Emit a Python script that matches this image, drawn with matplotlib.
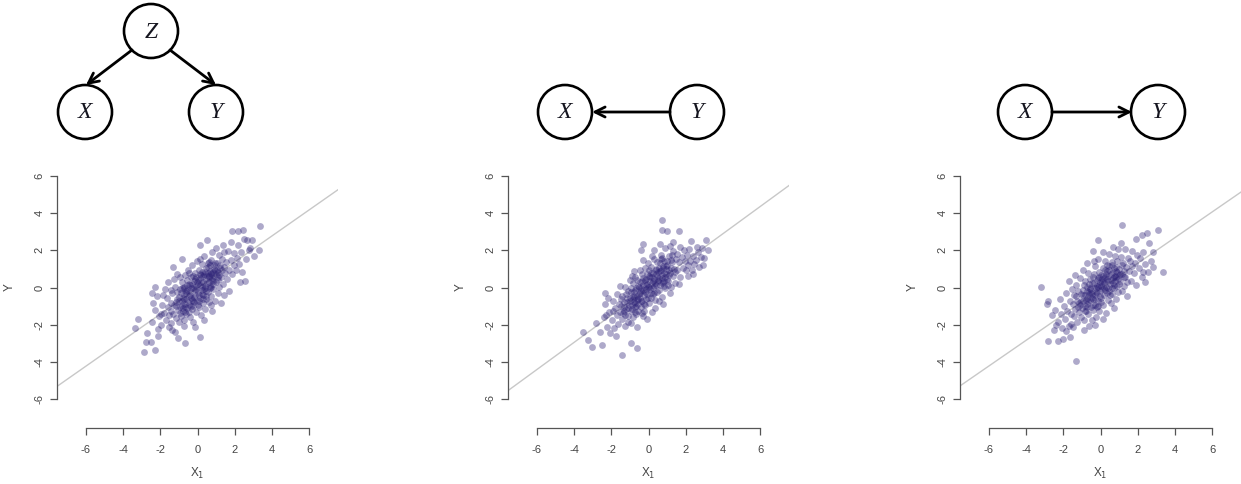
import matplotlib
matplotlib.use("Agg")
from matplotlib import pyplot as plt
from matplotlib.patches import Circle

plt.rcParams["font.family"] = ["Liberation Sans", "DejaVu Sans"]
plt.rcParams["axes.unicode_minus"] = False

W, H = 1241, 484

# scatter points (x, y)
p1_pts = [
    (3.37, 3.30), (3.33, 2.04), (2.20, 3.03), (1.84, 3.03), (2.47, 3.08), (2.65, 2.54), (2.83, 2.15),
    (2.56, 0.36), (2.29, 0.30), (-3.36, -2.20), (-3.18, -1.67), (-2.88, -3.46), (-2.77, -2.92),
    (-2.29, -3.37), (-2.52, -2.92), (-2.74, -2.47), (-0.67, -2.97), (0.13, -2.65), (-1.03, -2.74),
    (-1.21, -2.38), (-2.47, -0.32), (-2.29, 0.04), (-1.30, 1.11), (-0.85, 1.56), (0.13, 2.28), (0.49, 2.54),
    (-2.45, -1.85), (-2.30, -1.20), (-2.15, -2.25), (-2.40, -0.85), (-2.05, -1.55), (-2.20, -0.45), (-2.10, -2.60),
    (-1.95, -2.00), (-1.90, -0.95), (-1.80, -1.35), (-1.85, -0.40), (-1.70, -1.75), (-1.60, -1.05), (-1.65, -0.55),
    (-1.55, -2.15), (-1.75, -0.10), (-1.95, -1.40), (-1.60, 0.30), (-1.52, -1.50),
    (-1.45, -0.85), (-1.40, -1.90), (-1.35, -0.30), (-1.30, -1.40), (-1.25, -0.95), (-1.20, 0.05), (-1.15, -1.65),
    (-1.10, -0.60), (-1.05, -1.20), (-1.45, -0.15), (-1.35, -2.30), (-1.28, 0.45), (-1.12, -0.25), (-1.02, -1.85),
    (-1.42, -1.25), (-1.18, -0.80), (-1.08, 0.70),
    (-0.98, -0.50), (-0.95, -1.05), (-0.92, -0.10), (-0.88, -1.55), (-0.85, -0.75), (-0.82, 0.30), (-0.78, -1.25),
    (-0.75, -0.35), (-0.72, -2.05), (-0.70, 0.05), (-0.68, -0.90), (-0.65, 0.65), (-0.62, -1.45), (-0.60, -0.60),
    (-0.58, -0.15), (-0.55, -1.10), (-0.52, 0.95), (-0.96, 0.55), (-0.86, -0.95), (-0.74, -1.75), (-0.64, -0.30),
    (-0.56, 0.40), (-0.80, -0.55), (-0.66, -1.05),
    (-0.48, -0.45), (-0.45, -0.95), (-0.42, 0.15), (-0.40, -1.60), (-0.38, -0.20), (-0.35, 0.55), (-0.32, -1.15),
    (-0.30, -0.65), (-0.28, 1.20), (-0.25, -0.05), (-0.22, -1.85), (-0.20, 0.35), (-0.18, -0.80), (-0.15, 0.80),
    (-0.12, -0.40), (-0.10, -1.30), (-0.08, 0.10), (-0.05, -0.70), (-0.03, 1.45), (-0.46, 0.80), (-0.36, -0.55),
    (-0.26, -1.00), (-0.16, -0.15), (-0.06, 0.55), (-0.44, -1.30), (-0.24, 0.60), (-0.14, -2.10), (-0.34, 0.00),
    (0.02, -0.25), (0.05, 0.40), (0.08, -1.05), (0.10, 0.95), (0.12, -0.55), (0.15, 0.15), (0.18, -1.50),
    (0.20, 0.65), (0.22, -0.15), (0.25, 1.25), (0.28, -0.85), (0.30, 0.30), (0.32, -0.40), (0.35, 1.70),
    (0.38, 0.00), (0.40, -1.15), (0.42, 0.85), (0.45, 0.45), (0.48, -0.60), (0.06, -0.75), (0.16, 0.50),
    (0.26, 0.05), (0.36, 0.70), (0.46, 1.05), (0.14, 1.55), (0.34, -1.75), (0.44, -0.20), (0.24, -0.35),
    (0.52, 0.25), (0.55, -0.25), (0.58, 1.10), (0.60, 0.55), (0.62, -0.80), (0.65, 0.90), (0.68, 0.10),
    (0.70, 1.50), (0.72, -0.45), (0.75, 0.70), (0.78, -1.25), (0.80, 1.90), (0.82, 0.35), (0.85, -0.10),
    (0.88, 1.20), (0.90, 0.60), (0.92, -0.70), (0.95, 0.95), (0.98, 2.15), (0.56, 0.80), (0.66, -0.05),
    (0.76, 0.40), (0.86, 0.85), (0.64, 1.35), (0.74, -0.95),
    (1.02, 0.30), (1.05, 1.30), (1.08, -0.30), (1.10, 0.85), (1.15, 1.75), (1.18, 0.05), (1.22, 1.05),
    (1.25, -0.85), (1.28, 0.55), (1.32, 1.55), (1.35, 2.30), (1.38, 0.20), (1.42, 1.10), (1.45, -0.40),
    (1.48, 0.80), (1.12, 0.55), (1.30, 0.95), (1.40, 1.90),
    (1.52, 1.35), (1.58, 0.45), (1.62, 1.95), (1.68, 0.95), (1.72, -0.20), (1.78, 1.50), (1.82, 2.45),
    (1.88, 0.70), (1.95, 1.20), (1.98, 1.85),
    (2.05, 0.95), (2.12, 1.60), (2.18, 2.30), (2.25, 1.25), (2.35, 1.90), (2.42, 0.85), (2.48, 2.60),
    (2.62, 1.55), (2.75, 2.00), (2.95, 2.55), (3.05, 1.70),
    # dense core
    (-1.00, -0.70), (-0.90, -0.30), (-0.80, -1.10), (-0.70, -0.60), (-0.60, -0.20), (-0.50, -0.80),
    (-0.40, -0.40), (-0.30, 0.20), (-0.20, -0.50), (-0.10, -0.10), (0.00, 0.20), (0.10, -0.40),
    (0.20, 0.30), (0.30, 0.60), (0.40, 0.10), (0.50, 0.60), (0.60, 0.30), (0.70, 0.80), (0.80, 0.50),
    (0.90, 1.00), (1.00, 0.70), (1.10, 0.40), (1.20, 1.20), (-0.75, -0.05), (-0.55, 0.15), (-0.35, -1.00),
    (-0.15, 0.45), (0.05, -0.95), (0.25, 0.85), (0.45, -0.45), (0.65, 1.20), (0.85, 0.20), (1.05, 0.95),
    (-1.15, -1.00), (-0.95, -1.35), (-0.45, 0.20), (0.15, 0.70), (0.35, -0.10), (0.55, 1.30), (0.75, 0.05),
    (-0.25, -0.75), (-0.05, 0.30), (0.30, -0.60), (0.60, 0.60), (-0.65, -1.30), (-0.85, 0.00), (0.95, 1.30),
    (1.15, 0.65),
]

p2_pts = [
    (0.75, 3.65), (0.70, 3.08), (0.97, 3.03), (1.65, 3.03), (3.12, 2.54), (3.21, 2.00), (2.85, 1.65),
    (2.94, 1.20), (2.40, 0.75), (2.04, 0.93), (-3.51, -2.38), (-3.24, -2.83), (-3.06, -3.19), (-2.49, -3.10),
    (-1.40, -3.64), (-0.64, -3.28), (-0.95, -2.97), (-2.26, -1.49), (-2.35, -0.32), (-0.29, 2.36),
    (-0.41, 2.04), (-2.80, -1.90), (-2.60, -2.40), (2.60, 2.20), (2.30, 2.50),
    (-2.40, -1.60), (-2.25, -2.10), (-2.35, -0.90), (-2.10, -1.30), (-2.05, -2.45), (-2.20, -0.55),
    (-1.98, -1.75), (-1.92, -0.70), (-1.85, -2.20), (-1.80, -1.10), (-1.72, -1.50), (-1.68, -0.35),
    (-1.62, -1.95), (-1.58, -0.90), (-1.55, -1.30), (-1.90, -1.25), (-1.75, -2.60), (-1.52, 0.10),
    (-1.48, -1.00), (-1.44, -1.70), (-1.40, -0.45), (-1.36, -1.35), (-1.32, -0.80), (-1.28, -2.05),
    (-1.24, 0.05), (-1.20, -1.15), (-1.16, -0.55), (-1.12, -1.55), (-1.08, -0.20), (-1.04, -0.95),
    (-1.46, -0.60), (-1.34, -1.05), (-1.22, -0.35), (-1.10, -1.85), (-1.02, 0.40), (-1.26, -1.50),
    (-0.98, -0.70), (-0.95, -1.25), (-0.92, -0.25), (-0.88, -0.95), (-0.85, 0.25), (-0.82, -1.60),
    (-0.78, -0.50), (-0.75, -1.05), (-0.72, 0.55), (-0.70, -0.15), (-0.67, -1.40), (-0.64, -0.65),
    (-0.61, -2.10), (-0.58, 0.10), (-0.55, -0.90), (-0.52, -0.35), (-0.96, -1.90), (-0.86, -0.45),
    (-0.76, 0.90), (-0.66, -0.05), (-0.56, -1.25), (-0.80, -0.80), (-0.60, 0.40), (-0.90, 0.60),
    (-0.48, -0.55), (-0.45, 0.30), (-0.42, -1.05), (-0.39, -0.20), (-0.36, 0.75), (-0.33, -0.75),
    (-0.30, -1.55), (-0.27, 0.15), (-0.24, -0.40), (-0.21, 1.05), (-0.18, -0.95), (-0.15, 0.45),
    (-0.12, -0.10), (-0.09, -1.70), (-0.06, 0.70), (-0.03, -0.55), (-0.47, 0.95), (-0.37, -1.35),
    (-0.28, 0.50), (-0.19, -0.25), (-0.10, 0.20), (-0.40, 0.00), (-0.22, -1.25), (-0.05, 1.30),
    (-0.32, 1.50), (-0.14, -0.60),
    (0.02, 0.05), (0.05, -0.85), (0.08, 0.55), (0.11, -0.30), (0.14, 1.10), (0.17, 0.25), (0.20, -1.30),
    (0.23, 0.80), (0.26, -0.05), (0.29, 1.55), (0.32, 0.45), (0.35, -0.65), (0.38, 1.00), (0.41, 0.15),
    (0.44, -0.25), (0.47, 1.35), (0.04, 0.95), (0.13, -0.55), (0.22, 0.35), (0.31, -0.30), (0.40, 0.70),
    (0.49, 0.40), (0.18, 1.70), (0.36, -1.10), (0.27, 2.00),
    (0.52, 0.85), (0.55, -0.15), (0.58, 0.50), (0.61, 1.30), (0.64, 0.15), (0.67, 1.75), (0.70, 0.65),
    (0.73, -0.50), (0.76, 1.05), (0.79, 0.30), (0.82, 1.45), (0.85, 0.80), (0.88, -0.05), (0.91, 2.10),
    (0.94, 1.15), (0.97, 0.45), (0.57, -0.75), (0.66, 0.95), (0.75, 1.60), (0.84, 0.10), (0.93, 0.75),
    (0.62, 2.35), (0.80, -0.90),
    (1.02, 1.20), (1.06, 0.35), (1.10, 1.70), (1.14, 0.80), (1.18, 2.25), (1.22, 0.05), (1.26, 1.35),
    (1.30, 0.60), (1.34, 1.95), (1.38, 1.00), (1.42, 0.25), (1.46, 1.55), (1.08, 0.95), (1.20, 1.50),
    (1.32, 2.45), (1.44, 0.85), (1.16, -0.30),
    (1.52, 1.80), (1.56, 0.95), (1.62, 1.35), (1.68, 2.20), (1.72, 0.55), (1.78, 1.65), (1.84, 1.05),
    (1.90, 2.00), (1.96, 1.40), (1.65, 0.20),
    (2.05, 1.75), (2.10, 1.20), (2.18, 2.05), (2.25, 1.45), (2.32, 0.95), (2.38, 1.70), (2.45, 1.25),
    (2.15, 0.60), (2.55, 1.50), (2.65, 1.90), (2.72, 1.10), (2.90, 2.15), (3.00, 1.60),
    # dense core
    (-1.10, -1.10), (-1.00, -0.55), (-0.90, -1.15), (-0.80, -0.25), (-0.70, -0.85), (-0.60, -0.45),
    (-0.50, 0.05), (-0.40, -0.70), (-0.30, -0.15), (-0.20, 0.40), (-0.10, -0.35), (0.00, 0.35),
    (0.10, -0.10), (0.20, 0.55), (0.30, 0.10), (0.40, 0.95), (0.50, 0.35), (0.60, 0.90), (0.70, 0.25),
    (0.80, 1.15), (0.90, 0.55), (1.00, 1.45), (1.10, 0.65), (1.20, 1.05), (-0.85, -0.60), (-0.65, -1.00),
    (-0.45, -0.30), (-0.25, -0.90), (-0.05, 0.05), (0.15, 0.80), (0.35, 0.25), (0.55, 1.05), (0.75, 0.50),
    (0.95, 1.00), (-1.30, -1.25), (-0.95, -0.05), (-0.55, -0.60), (-0.15, 0.15), (0.25, -0.35),
    (0.45, 0.60), (0.65, 1.55), (0.85, 0.35), (1.05, 0.15), (-0.35, 0.35), (-0.75, -1.30), (0.05, 0.60),
    (1.25, 1.75), (-1.15, -0.80),
]

p3_pts = [
    (-3.20, 0.04), (-1.32, -3.98), (1.17, 3.35), (3.11, 3.09), (2.48, 2.91), (2.22, 2.84), (-0.12, 2.57),
    (-0.39, 1.98), (3.38, 0.81), (2.39, 0.28), (2.31, 0.81), (-2.81, -2.86), (-2.27, -2.86), (-2.90, -0.88),
    (-2.81, -0.70), (-1.64, -2.67), (-2.50, -2.30), (-2.00, -2.75), (2.80, 1.90), (2.60, 2.40), (1.90, 2.60),
    (-2.60, -1.50),
    (-2.45, -1.20), (-2.30, -1.85), (-2.20, -0.60), (-2.10, -1.40), (-2.40, -2.00), (-2.05, -2.20),
    (-1.96, -1.00), (-1.90, -1.70), (-1.84, -0.30), (-1.78, -1.25), (-1.72, -2.05), (-1.66, -0.75),
    (-1.60, -1.45), (-1.54, -0.10), (-1.88, -2.35), (-1.70, 0.35), (-1.58, -1.95),
    (-1.48, -0.90), (-1.44, -1.55), (-1.40, -0.40), (-1.36, -1.15), (-1.32, 0.15), (-1.28, -0.70),
    (-1.24, -1.85), (-1.20, -0.20), (-1.16, -1.30), (-1.12, 0.50), (-1.08, -0.95), (-1.04, -1.60),
    (-1.46, -2.10), (-1.30, -0.45), (-1.18, -0.85), (-1.06, -0.35), (-1.38, 0.65),
    (-0.98, -1.10), (-0.95, -0.15), (-0.92, -0.70), (-0.88, -1.75), (-0.85, 0.35), (-0.82, -0.40),
    (-0.78, -1.25), (-0.75, 0.05), (-0.72, -0.90), (-0.69, 0.80), (-0.66, -1.45), (-0.63, -0.25),
    (-0.60, -2.05), (-0.57, 0.45), (-0.54, -0.65), (-0.51, -1.05), (-0.94, 0.95), (-0.84, -1.00),
    (-0.74, -0.55), (-0.64, 0.20), (-0.54, -0.10), (-0.90, -2.30), (-0.70, 1.30),
    (-0.48, -0.35), (-0.45, 0.25), (-0.42, -1.20), (-0.39, -0.60), (-0.36, 0.70), (-0.33, -0.05),
    (-0.30, -0.95), (-0.27, 1.15), (-0.24, -1.60), (-0.21, 0.40), (-0.18, -0.30), (-0.15, 0.05),
    (-0.12, -0.75), (-0.09, 0.85), (-0.06, -1.25), (-0.03, 0.30), (-0.46, -1.75), (-0.37, 1.45),
    (-0.28, -0.40), (-0.19, -1.05), (-0.10, 0.55), (-0.41, 0.55), (-0.23, 0.00), (-0.05, -0.20),
    (-0.32, -2.00), (-0.14, 1.55),
    (0.02, -0.55), (0.05, 0.65), (0.08, -0.10), (0.11, 1.05), (0.14, -0.95), (0.17, 0.25), (0.20, -0.40),
    (0.23, 1.45), (0.26, 0.55), (0.29, -1.35), (0.32, 0.05), (0.35, 0.90), (0.38, -0.65), (0.41, 0.35),
    (0.44, 1.80), (0.47, -0.20), (0.07, 0.30), (0.16, -1.70), (0.25, 0.95), (0.34, -0.30), (0.43, 0.60),
    (0.12, 1.90), (0.48, 1.15), (0.20, 0.00),
    (0.52, 0.20), (0.55, -0.85), (0.58, 0.75), (0.61, 1.35), (0.64, -0.35), (0.67, 0.50), (0.70, 1.05),
    (0.73, -0.05), (0.76, 1.70), (0.79, 0.35), (0.82, -0.60), (0.85, 0.90), (0.88, 1.40), (0.91, 0.10),
    (0.94, 2.05), (0.97, 0.65), (0.60, 0.00), (0.72, -1.10), (0.84, 0.55), (0.96, -0.25), (0.66, 2.20),
    (1.02, 1.00), (1.06, 0.35), (1.10, 1.65), (1.14, -0.20), (1.18, 0.75), (1.22, 1.30), (1.26, 0.10),
    (1.30, 2.05), (1.34, 0.55), (1.38, 1.10), (1.42, -0.45), (1.46, 1.60), (1.12, 2.40), (1.28, 0.90),
    (1.44, 0.30),
    (1.54, 0.90), (1.60, 1.45), (1.66, 0.35), (1.72, 1.95), (1.78, 0.80), (1.84, 1.30), (1.90, 0.15),
    (1.96, 1.75), (1.70, 1.15),
    (2.06, 1.05), (2.14, 1.60), (2.22, 0.55), (2.30, 1.90), (2.40, 1.25),
    (2.55, 0.85), (2.70, 1.45), (2.85, 1.10),
    # dense core
    (-1.05, -0.75), (-0.95, -0.40), (-0.85, -1.25), (-0.75, -0.20), (-0.65, -0.75), (-0.55, 0.00),
    (-0.45, -0.55), (-0.35, 0.25), (-0.25, -0.25), (-0.15, 0.50), (-0.05, -0.45), (0.05, 0.10),
    (0.15, 0.60), (0.25, -0.15), (0.35, 0.45), (0.45, 0.95), (0.55, 0.40), (0.65, 0.85), (0.75, 0.15),
    (0.85, 1.10), (0.95, 0.45), (1.05, 0.75), (1.15, 1.20), (-0.80, -0.65), (-0.60, -0.35), (-0.40, -0.95),
    (-0.20, 0.10), (0.00, -0.80), (0.20, 0.35), (0.40, -0.05), (0.60, 1.20), (0.80, 0.60), (1.00, 0.20),
    (-1.20, -1.05), (-0.90, 0.15), (-0.50, -0.30), (-0.10, 0.15), (0.30, 0.70), (0.50, -0.40),
    (0.70, 0.55), (0.90, 0.85), (-0.30, -0.60), (0.10, 0.45), (-0.70, -1.05), (1.25, 0.55), (0.35, 1.20),
    (-0.15, -1.00), (0.65, 0.25),
]

# fitted lines (slope, intercept)
line_slopes = [0.70, 0.73, 0.69]
line_icepts = [-0.03, -0.03, -0.08]

ticks = [-6, -4, -2, 0, 2, 4, 6]
lim = 7.56

# DAG node positions (pixels) and edges
dag_nodes = [
    {"Z": (151, 31), "X": (85, 112), "Y": (216, 112)},
    {"X": (565, 112), "Y": (697, 112)},
    {"X": (1025, 112), "Y": (1158, 112)},
]
dag_edges = [
    [((132, 50), (86, 85)), ((170, 50), (216, 85))],
    [((670, 112), (592, 112))],
    [((1052, 112), (1132, 112))],
]
node_r = 27

panel_left = [57, 508, 960]
panel_top = 147
panel_size = 281

fig = plt.figure(figsize=(W / 100, H / 100), dpi=100)

# overlay for the graph diagrams, in pixel coords
ov = fig.add_axes([0, 0, 1, 1])
ov.set_xlim(0, W)
ov.set_ylim(H, 0)
ov.axis("off")
for nodes, edges in zip(dag_nodes, dag_edges):
    for name, (cx, cy) in nodes.items():
        ov.add_patch(Circle((cx, cy), node_r, fill=False, lw=1.9, ec="black"))
        ov.text(cx, cy + 1, name, ha="center", va="center", fontsize=17,
                family="Liberation Serif", style="italic", color="#15151f")
    for (x0, y0), (x1, y1) in edges:
        ov.annotate("", xy=(x1, y1), xytext=(x0, y0),
                    arrowprops=dict(arrowstyle="->", lw=2.0, color="black",
                                    mutation_scale=18, shrinkA=0, shrinkB=0))

grey = "#555555"
all_pts = [p1_pts, p2_pts, p3_pts]
for i, pts in enumerate(all_pts):
    left = panel_left[i]
    ax = fig.add_axes([left / W, 1 - (panel_top + panel_size) / H,
                       panel_size / W, panel_size / H])
    ax.patch.set_alpha(0)
    xs = [p[0] for p in pts]
    ys = [p[1] for p in pts]
    ax.axline((0, line_icepts[i]), slope=line_slopes[i], color="#c8c8c8", lw=1.0, zorder=1)
    ax.scatter(xs, ys, s=24, color="#2a1f75", alpha=0.38, linewidths=0, zorder=2)
    ax.set_xlim(-lim, lim)
    ax.set_ylim(-lim, lim)
    ax.set_xticks(ticks)
    ax.set_yticks(ticks)
    for s in ["top", "right"]:
        ax.spines[s].set_visible(False)
    for s in ["left", "bottom"]:
        ax.spines[s].set_bounds(-6, 6)
        ax.spines[s].set_color(grey)
        ax.spines[s].set_linewidth(0.9)
    ax.tick_params(axis="both", direction="out", length=5, width=0.9, color=grey,
                   labelsize=8, labelcolor="#444444")
    ax.tick_params(axis="x", pad=7)
    ax.tick_params(axis="y", pad=4, labelrotation=90)
    for lab in ax.get_yticklabels():
        lab.set_va("center")

    x_mid = left + (panel_size / 2)
    fig.text((left - 47) / W, 1 - 287 / H, "Y", rotation=90, ha="center", va="center",
             fontsize=8.5, color="#444444")
    fig.text(x_mid / W, 1 - 473 / H, r"X$_1$", ha="center", va="center",
             fontsize=8.5, color="#444444")

fig.savefig("out.png", dpi=100)
